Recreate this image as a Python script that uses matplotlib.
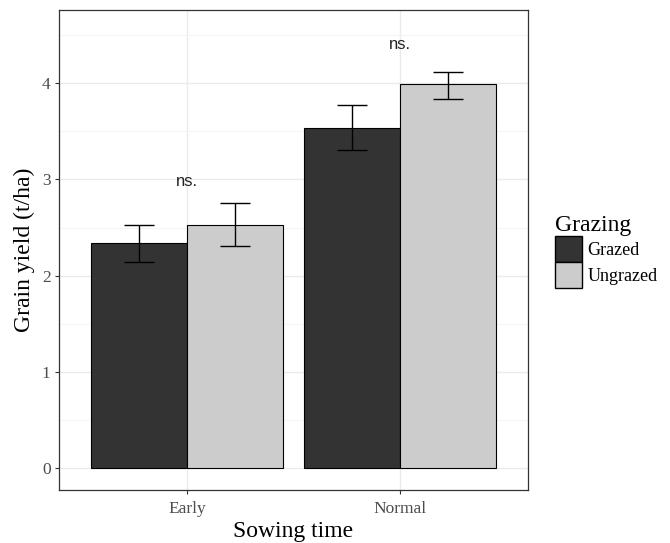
import matplotlib
matplotlib.use("Agg")
import matplotlib.pyplot as plt
import numpy as np
from matplotlib.patches import Patch

categories = ["Early", "Normal"]
groups = ["Grazed", "Ungrazed"]
grazed = [2.34, 3.53]
ungrazed = [2.53, 3.99]
grazed_lo = [2.145, 3.31]
grazed_hi = [2.53, 3.77]
ungrazed_lo = [2.31, 3.84]
ungrazed_hi = [2.76, 4.12]
ns_labels = ["ns.", "ns."]
ns_y = [2.98, 4.40]
colors = ["#333333", "#cccccc"]

fig = plt.figure(figsize=(6.7, 5.43), dpi=100)
ax = fig.add_axes([59/670, 53/543, (528-59)/670, (490-10)/543])

x = np.arange(1, len(categories)+1)
w = 0.45
vals = [grazed, ungrazed]
los = [grazed_lo, ungrazed_lo]
his = [grazed_hi, ungrazed_hi]
offs = [-w/2, w/2]
for i in range(2):
    ax.bar(x + offs[i], vals[i], width=w, color=colors[i], edgecolor="black",
           linewidth=0.8, zorder=3)
    v = np.array(vals[i]); lo = np.array(los[i]); hi = np.array(his[i])
    ax.errorbar(x + offs[i], v, yerr=[v - lo, hi - v], fmt="none", ecolor="black",
                elinewidth=1.0, capsize=11, capthick=1.0, zorder=4)

for xi, lab, yy in zip(x, ns_labels, ns_y):
    ax.text(xi, yy, lab, ha="center", va="center", fontsize=12,
            family="Liberation Sans", color="#222222", zorder=5)

ax.set_xlim(0.4, 2.6)
ax.set_ylim(-0.227, 4.76)
ax.set_xticks(x)
ax.set_xticklabels(categories)
ax.set_yticks([0, 1, 2, 3, 4])
ax.set_yticks([0.5, 1.5, 2.5, 3.5, 4.5], minor=True)
ax.grid(True, which="major", color="#ebebeb", linewidth=1.0, zorder=0)
ax.grid(True, which="minor", axis="y", color="#f5f5f5", linewidth=0.8, zorder=0)
ax.set_axisbelow(True)
ax.tick_params(axis="both", which="major", length=3, color="#333333", width=0.8,
               labelsize=12.5, labelcolor="#4d4d4d", pad=3)
ax.tick_params(axis="x", which="major", pad=5)
ax.tick_params(axis="y", which="minor", length=0)
for lab in ax.get_xticklabels() + ax.get_yticklabels():
    lab.set_family("Liberation Serif")
for s in ax.spines.values():
    s.set_color("#333333")
    s.set_linewidth(0.9)

ax.set_xlabel("Sowing time", fontsize=17, family="Liberation Serif", labelpad=2.5)
ax.set_ylabel("Grain yield (t/ha)", fontsize=17, family="Liberation Serif", labelpad=5)

handles = [Patch(facecolor=colors[i], edgecolor="black", linewidth=1.0, label=groups[i])
           for i in range(2)]
leg = fig.legend(handles=handles, title="Grazing", loc="upper left",
                 bbox_to_anchor=(555/670, 1 - 215/543), frameon=False,
                 prop={"family": "Liberation Serif", "size": 13},
                 title_fontproperties={"family": "Liberation Serif", "size": 17},
                 handlelength=1.5, handleheight=1.85, handletextpad=0.3,
                 labelspacing=0.0, borderaxespad=0, borderpad=0)
leg._legend_box.align = "left"

fig.savefig("out.png", dpi=100)
